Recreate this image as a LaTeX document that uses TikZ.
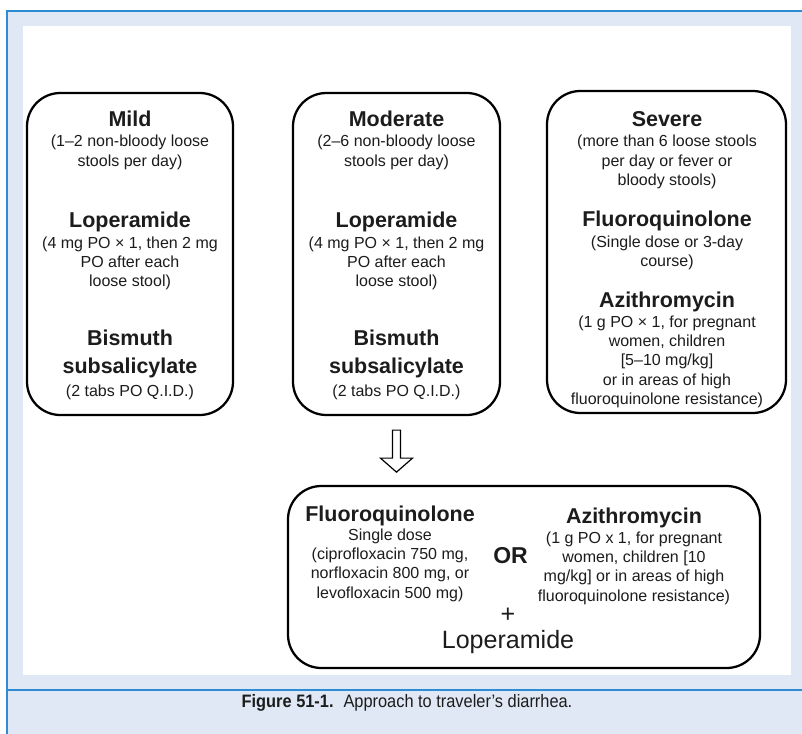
\documentclass[tikz,border=0pt]{standalone}
\usepackage{fontspec}
\setmainfont{Liberation Sans}
\newfontfamily\capfont[FakeStretch=0.91]{Liberation Sans}
\usepackage{xcolor}
\usetikzlibrary{calc,positioning}

\definecolor{frameblue}{RGB}{45,140,212}
\definecolor{panelblue}{RGB}{223,232,244}
\definecolor{inkgray}{RGB}{28,28,28}

\tikzset{
  stagebox/.style={draw=black, line width=1.7pt, rounded corners=25pt, minimum height=241.5pt, inner sep=0pt},
  drug/.style={font=\fontsize{16.1}{21}\selectfont\bfseries, text=inkgray, inner sep=0pt, anchor=base, align=center},
  dose/.style={font=\fontsize{12}{14.5}\selectfont, text=inkgray, inner sep=0pt, anchor=north, align=center},
  plain/.style={font=\fontsize{18.8}{22}\selectfont, text=inkgray, inner sep=0pt, anchor=base},
  hollow/.style={draw=black, line width=0.9pt, fill=white, line join=miter},
}

\begin{document}
\begin{tikzpicture}[x=0.75pt, y=-0.75pt]
  \useasboundingbox (0,0) rectangle (802,734);

  % Frame and panel
  \fill[panelblue] (7,11) rectangle (802,734);
  \fill[white] (23,26) rectangle (791,675);
  \draw[frameblue, line width=1.5pt] (802,11) -- (7,11) -- (7,734);
  \draw[frameblue, line width=1.5pt] (7,690) -- (802,690);

  % Boxes
  \node[stagebox, minimum width=154.5pt] (mild) at (130,254) {};
  \node[stagebox, minimum width=155.25pt] (moderate) at (396.5,254) {};
  \node[stagebox, minimum width=179.25pt] (severe) at (666.5,252) {};
  \node[stagebox, minimum width=354pt, minimum height=136.5pt] (combo) at (524,577) {};

  % Mild
  \node[drug] (mildHead) at (130,127) {Mild};
  \node[dose] (mildNote) at (130,135) {(1–2 non-bloody loose\\stools per day)};
  \node[drug] (mildLop) at (130,228) {Loperamide};
  \node[dose] (mildLopDose) at (130,236.3) {(4 mg PO × 1, then 2 mg\\PO after each\\loose stool)};
  \node[drug, anchor=north] (mildBis) at (130,329.6) {Bismuth\\subsalicylate};
  \node[dose] (mildBisDose) at (130,384.3) {(2 tabs PO Q.I.D.)};

  % Moderate
  \node[drug] (modHead) at (396.5,127) {Moderate};
  \node[dose] (modNote) at (396.5,135) {(2–6 non-bloody loose\\stools per day)};
  \node[drug] (modLop) at (396.5,228) {Loperamide};
  \node[dose] (modLopDose) at (396.5,236.3) {(4 mg PO × 1, then 2 mg\\PO after each\\loose stool)};
  \node[drug, anchor=north] (modBis) at (396.5,329.6) {Bismuth\\subsalicylate};
  \node[dose] (modBisDose) at (396.5,384.3) {(2 tabs PO Q.I.D.)};

  % Severe
  \node[drug] (sevHead) at (667,127) {Severe};
  \node[dose] (sevNote) at (667,135) {(more than 6 loose stools\\per day or fever or\\bloody stools)};
  \node[drug] (sevFq) at (667,227) {Fluoroquinolone};
  \node[dose] (sevFqDose) at (667,235.3) {(Single dose or 3-day\\course)};
  \node[drug] (sevAz) at (667,307) {Azithromycin};
  \node[dose] (sevAzDose) at (667,315.3) {(1 g PO × 1, for pregnant\\women, children\\{[}5–10 mg/kg{]}\\or in areas of high\\fluoroquinolone resistance)};

  % Arrow from moderate to combined treatment
  \coordinate (arrowTop) at ($(moderate.south)+(0,14)$);
  \draw[hollow] (arrowTop) ++(-4,0) -- ++(0,28) -- ++(-12,0) -- ++(16,14)
    -- ++(16,-14) -- ++(-12,0) -- ++(0,-28) -- cycle;

  % Combined treatment
  \node[drug] (fqHead) at (390,521) {Fluoroquinolone};
  \node[dose] (fqDose) at (390,528.3) {Single dose\\(ciprofloxacin 750 mg,\\norfloxacin 800 mg, or\\levofloxacin 500 mg)};
  \node[drug, font=\fontsize{17.25}{20}\selectfont\bfseries] (orWord) at (510.5,563) {OR};
  \node[drug] (azHead) at (634,523) {Azithromycin};
  \node[dose] (azDose) at (634,531.3) {(1 g PO x 1, for pregnant\\women, children {[}10\\mg/kg{]} or in areas of high\\fluoroquinolone resistance)};
  \node[plain] (plusSign) at (508,622) {+};
  \node[plain] (lopWord) at (508,648) {Loperamide};

  % Caption
  \node[font=\capfont\fontsize{13.5}{16}\selectfont, text=inkgray, anchor=base, inner sep=0pt] (caption) at (407,707)
    {\textbf{Figure 51-1.}\hspace{0.55em}Approach to traveler’s diarrhea.};
\end{tikzpicture}
\end{document}
